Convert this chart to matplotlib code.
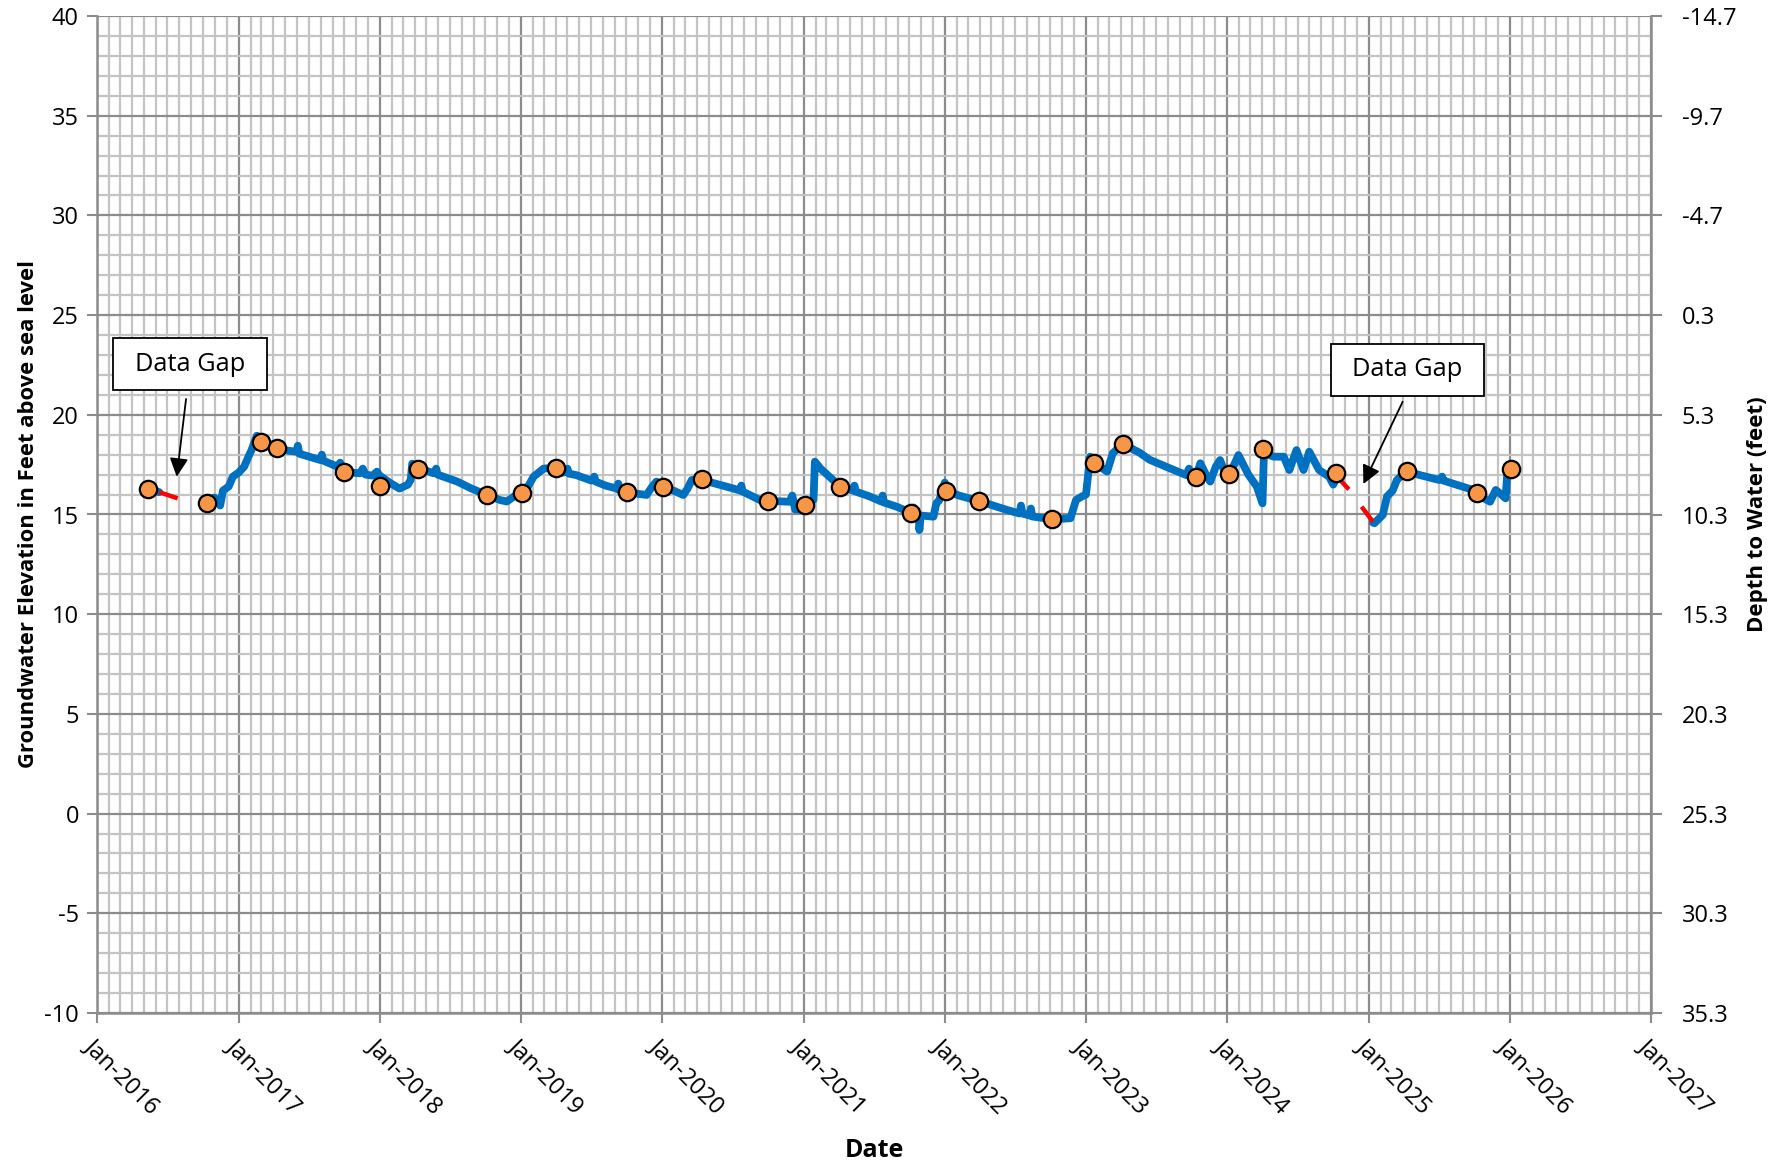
import numpy as np
import matplotlib
matplotlib.use("Agg")
import matplotlib.pyplot as plt
import matplotlib.dates as mdates
from matplotlib.patches import Rectangle
from datetime import datetime, timedelta

plt.rcParams['font.family'] = ['Open Sans', 'DejaVu Sans']
plt.rcParams['axes.unicode_minus'] = False

# ---------------- data (decimal years, feet above sea level) ----------------
seg1_years = [2016.36, 2016.44]
seg1_elev = [16.30, 16.12]

seg2_years = [2016.79, 2016.83, 2016.87, 2016.89, 2016.93, 2016.96, 2017.00, 2017.04, 2017.07, 2017.09,
              2017.13, 2017.16, 2017.20, 2017.27, 2017.35, 2017.41, 2017.42, 2017.43, 2017.50, 2017.58,
              2017.59, 2017.60, 2017.70, 2017.72, 2017.73, 2017.76, 2017.86, 2017.88, 2017.90, 2017.95,
              2017.98, 2018.00, 2018.07, 2018.14, 2018.20, 2018.22, 2018.23, 2018.27, 2018.33, 2018.38,
              2018.40, 2018.41, 2018.55, 2018.65, 2018.76, 2018.85, 2018.90, 2018.95, 2019.01, 2019.05,
              2019.09, 2019.16, 2019.25, 2019.30, 2019.33, 2019.34, 2019.39, 2019.50, 2019.52, 2019.53,
              2019.60, 2019.68, 2019.69, 2019.70, 2019.75, 2019.89, 2019.93, 2019.96, 2019.98, 2020.01,
              2020.08, 2020.15, 2020.18, 2020.21, 2020.28, 2020.35, 2020.50, 2020.55, 2020.56, 2020.57,
              2020.69, 2020.75, 2020.90, 2020.92, 2020.93, 2020.94, 2021.00, 2021.02, 2021.07, 2021.08,
              2021.12, 2021.19, 2021.26, 2021.35, 2021.36, 2021.37, 2021.47, 2021.55, 2021.56, 2021.57,
              2021.66, 2021.76, 2021.78, 2021.79, 2021.815, 2021.82, 2021.83, 2021.92, 2021.94, 2021.96,
              2022.00, 2022.01, 2022.10, 2022.24, 2022.44, 2022.53, 2022.54, 2022.55, 2022.60, 2022.61,
              2022.62, 2022.76, 2022.89, 2022.93, 2022.97, 2023.00, 2023.03, 2023.06, 2023.12, 2023.15,
              2023.19, 2023.26, 2023.38, 2023.45, 2023.60, 2023.71, 2023.73, 2023.75, 2023.78, 2023.81,
              2023.85, 2023.88, 2023.92, 2023.95, 2023.98, 2024.01, 2024.05, 2024.08, 2024.15, 2024.21,
              2024.25, 2024.26, 2024.33, 2024.40, 2024.44, 2024.49, 2024.54, 2024.58, 2024.65, 2024.72,
              2024.75, 2024.78]
seg2_elev = [15.75, 15.85, 15.45, 16.20, 16.40, 16.90, 17.10, 17.40, 17.90, 18.20,
             18.95, 18.65, 18.60, 18.35, 18.20, 18.15, 18.45, 18.05, 17.90, 17.73,
             18.00, 17.70, 17.40, 17.60, 17.30, 17.12, 17.07, 17.30, 17.00, 16.95,
             17.15, 16.95, 16.60, 16.30, 16.50, 16.75, 17.55, 17.35, 17.20, 17.07,
             17.30, 17.00, 16.65, 16.30, 15.98, 15.73, 15.65, 15.90, 16.10, 16.40,
             16.90, 17.30, 17.35, 17.10, 17.30, 17.05, 16.98, 16.70, 16.90, 16.65,
             16.45, 16.30, 16.55, 16.20, 16.11, 15.98, 16.40, 16.65, 16.50, 16.40,
             16.20, 15.98, 16.30, 16.73, 16.77, 16.60, 16.31, 16.20, 16.45, 16.15,
             15.73, 15.68, 15.64, 15.95, 15.64, 15.25, 15.25, 15.50, 15.73, 17.65,
             17.30, 16.85, 16.40, 16.20, 16.45, 16.15, 15.90, 15.65, 15.95, 15.60,
             15.39, 15.09, 15.35, 14.95, 14.98, 14.22, 14.95, 14.89, 15.56, 15.70,
             16.60, 16.20, 15.95, 15.68, 15.23, 15.05, 15.45, 15.05, 14.95, 15.30,
             14.90, 14.76, 14.81, 15.73, 15.90, 16.00, 17.90, 17.57, 17.30, 17.15,
             18.07, 18.54, 18.10, 17.75, 17.30, 16.98, 17.30, 16.90, 16.87, 17.57,
             17.00, 16.65, 17.40, 17.73, 17.20, 17.03, 17.50, 17.98, 17.00, 16.40,
             15.56, 18.07, 17.90, 17.90, 17.23, 18.23, 17.23, 18.15, 17.23, 16.90,
             16.50, 16.90]

seg3_years = [2025.03, 2025.04, 2025.10, 2025.13, 2025.17, 2025.20, 2025.24, 2025.27, 2025.35, 2025.50,
              2025.52, 2025.53, 2025.74, 2025.77, 2025.82, 2025.86, 2025.90, 2025.94, 2025.97, 2025.98,
              2026.01]
seg3_elev = [14.60, 14.56, 14.98, 15.90, 16.20, 16.73, 17.00, 17.18, 17.00, 16.73,
             16.90, 16.70, 16.23, 16.10, 15.80, 15.64, 16.23, 16.00, 15.81, 16.90,
             17.27]

# red gap connectors
gap_years = [[2016.44, 2016.57], [2016.72, 2016.78], [2024.79, 2024.86], [2024.95, 2025.03]]
gap_elev = [[16.12, 15.81], [15.62, 15.58], [16.80, 16.26], [15.39, 14.64]]

# manual measurements (orange markers)
meas_years = [2016.36, 2016.78, 2017.16, 2017.27, 2017.75, 2018.00, 2018.27, 2018.76, 2019.01, 2019.25,
              2019.75, 2020.01, 2020.28, 2020.75, 2021.01, 2021.26, 2021.76, 2022.01, 2022.24, 2022.76,
              2023.06, 2023.26, 2023.78, 2024.01, 2024.25, 2024.77, 2025.27, 2025.77, 2026.01]
meas_elev = [16.28, 15.56, 18.62, 18.35, 17.12, 16.45, 17.28, 15.98, 16.10, 17.32,
             16.11, 16.40, 16.77, 15.68, 15.48, 16.40, 15.09, 16.20, 15.68, 14.76,
             17.57, 18.54, 16.87, 17.03, 18.27, 17.07, 17.18, 16.10, 17.27]

ground_elev = 25.3          # depth = ground_elev - elevation
y_ticks = [-10, -5, 0, 5, 10, 15, 20, 25, 30, 35, 40]
annot_text = "Data Gap"


def to_date(y):
    yr = int(np.floor(y))
    start = datetime(yr, 1, 1)
    days = (datetime(yr + 1, 1, 1) - start).days
    return start + timedelta(days=(y - yr) * days)


def conv(ys):
    return [to_date(v) for v in ys]


# ---------------- figure ----------------
fig = plt.figure(figsize=(17.91, 11.63), dpi=100)
ax = fig.add_axes([97 / 1791, 1 - 1013 / 1163, 1554 / 1791, 997 / 1163])

major_c = '#8c8c8c'
minor_c = '#c4c4c4'

ax.set_xlim(to_date(2016), to_date(2027))
ax.set_ylim(-10, 40)
ax.xaxis.set_major_locator(mdates.YearLocator())
ax.xaxis.set_minor_locator(mdates.MonthLocator())
ax.xaxis.set_major_formatter(mdates.DateFormatter('%b-%Y'))
ax.set_yticks(y_ticks)
ax.set_yticks(np.arange(-10, 41, 1), minor=True)

ax.grid(which='minor', color=minor_c, lw=1.6, zorder=0)
ax.grid(which='major', color=major_c, lw=1.6, zorder=0)
ax.set_axisbelow(True)

for s in ['left', 'bottom', 'right']:
    ax.spines[s].set_color(major_c)
    ax.spines[s].set_linewidth(1.8)
ax.spines['top'].set_visible(False)

ax.tick_params(axis='both', which='major', length=7, width=1.5, color=major_c, labelsize=17)
ax.tick_params(axis='both', which='minor', length=0)
ax.tick_params(axis='y', pad=6)
ax.tick_params(axis='x', pad=8)
for lab in ax.get_xticklabels():
    lab.set_rotation(-45)
    lab.set_ha('left')
    lab.set_va('top')
    lab.set_rotation_mode('anchor')

blue = '#0070C0'
for yrs, ev in [(seg1_years, seg1_elev), (seg2_years, seg2_elev), (seg3_years, seg3_elev)]:
    ax.plot(conv(yrs), ev, color=blue, lw=5.6, solid_joinstyle='round', solid_capstyle='round', zorder=3)
for yrs, ev in zip(gap_years, gap_elev):
    ax.plot(conv(yrs), ev, color='#FF0000', lw=3.2, solid_capstyle='butt', zorder=3)
ax.plot(conv(meas_years), meas_elev, ls='none', marker='o', ms=12.5, mfc='#F79646', mec='black',
        mew=1.6, zorder=5)

ax.set_ylabel('Groundwater Elevation in Feet above sea level', fontsize=15.8, fontweight='bold', labelpad=4)
ax.set_xlabel('Date', fontsize=18, fontweight='bold', labelpad=14)

# right axis: depth to water
ax2 = ax.twinx()
ax2.set_ylim(ground_elev + 10, ground_elev - 40)
ax2.set_yticks([ground_elev - v for v in y_ticks])
ax2.set_yticklabels([f"{ground_elev - v:.1f}" for v in y_ticks])
ax2.tick_params(axis='y', length=8, width=1.5, color=major_c, labelsize=17, pad=14)
for s in ['left', 'bottom', 'right', 'top']:
    ax2.spines[s].set_visible(False)
ax2.set_ylabel('Depth to Water (feet)', fontsize=16, fontweight='bold', labelpad=8)

# annotations
boxes = [(0.0105, 0.6249, 0.0987, 0.0518), (0.7939, 0.6192, 0.0986, 0.0518)]
arrows = [((0.0573, 0.6158), (0.0513, 0.5379)), ((0.8402, 0.6131), (0.8149, 0.5306))]
for (x0, y0, w, h), (start, end) in zip(boxes, arrows):
    ax.add_patch(Rectangle((x0, y0), w, h, transform=ax.transAxes, facecolor='white',
                           edgecolor='black', lw=1.3, zorder=6))
    ax.text(x0 + w / 2, y0 + h / 2, annot_text, transform=ax.transAxes, ha='center', va='center',
            fontsize=18.3, zorder=7)
    ax.annotate('', xy=end, xytext=start, xycoords='axes fraction', textcoords='axes fraction',
                arrowprops=dict(arrowstyle='-|>', color='black', lw=1.3, mutation_scale=28,
                                shrinkA=0, shrinkB=0), zorder=7)

fig.savefig('out.png', dpi=100)
